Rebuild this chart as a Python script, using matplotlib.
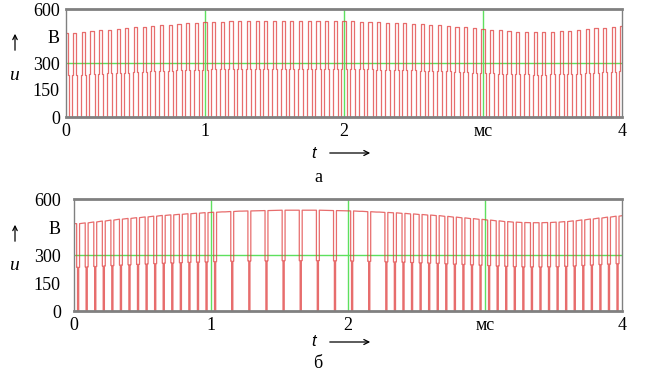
import numpy as np
import matplotlib
matplotlib.use("Agg")
import matplotlib.pyplot as plt

# ---------------- data ----------------
period_ms = 0.0625          # PWM period (16 pulses per ms)
# panel a: top level of each pulse (V), pulse k centred at k*period
env_a = [465, 467, 471, 476, 481, 486, 490, 494, 498, 502, 506, 510, 513, 517, 520, 523,
         526, 528, 530, 532, 533, 534, 535, 536, 536, 536, 536, 536, 536, 535, 535, 534,
         533, 532, 530, 529, 527, 525, 523, 521, 518, 516, 513, 509, 506, 502, 498, 494,
         490, 486, 482, 478, 475, 473, 472, 472, 474, 476, 479, 483, 487, 492, 497, 502,
         508]
# panel b: top level around each period (V)
env_b = [468, 472, 477, 482, 487, 492, 496, 500, 504, 508, 512, 515, 518, 521, 524, 527,
         529, 531, 533, 535, 536, 537, 538, 539, 540, 540, 540, 540, 540, 539, 538, 537,
         536, 534, 532, 530, 528, 526, 523, 520, 517, 514, 511, 507, 503, 499, 495, 491,
         487, 483, 479, 476, 474, 473, 473, 474, 476, 479, 483, 488, 493, 498, 503, 508,
         513]
# panel b: notch present (1) or dropped (0) at each period
notch_b = [1] * 17 + [0, 1] * 9 + [0] + [1] * 28
y_ticks = [0, 150, 300, 450, 600]
y_labels = ["0", "150", "300", "В", "600"]
x_ticks = [0, 1, 2, 3, 4]
x_labels = ["0", "1", "2", "мс", "4"]

RED = "#e03c3c"
GREEN = "#5ee05e"
GRAY = "#808080"
SERIF = "Liberation Serif"

W, H = 645, 382
fig = plt.figure(figsize=(6.45, 3.82), dpi=100)

def ax_rect(l, r, t, b):
    return [l / W, 1 - b / H, (r - l) / W, (b - t) / H]

ax_a = fig.add_axes(ax_rect(66, 622, 9, 117))
ax_b = fig.add_axes(ax_rect(74, 622, 199, 311))

# ---- waveform a: narrow pulses with mid-level steps ----
ta, va = [], []
for k, h in enumerate(env_a):
    c = k * period_ms
    m = h / 2
    w1, w2 = 0.30 * period_ms, 0.18 * period_ms
    ta += [c - w1, c - w1, c - w2, c - w2, c + w2, c + w2, c + w1, c + w1]
    va += [0, m, m, h, h, m, m, 0]

# ---- waveform b: high level with notches ----
tb, vb = [], []
for k, h in enumerate(env_b):
    c = (k + 0.48) * period_ms
    m = h / 2
    w1, w2 = 0.17 * period_ms, 0.07 * period_ms
    if k < len(notch_b) and notch_b[k]:
        tb += [c - w1, c - w1, c - w2, c - w2, c + w2, c + w2, c + w1, c + w1]
        vb += [h, m, m, 0, 0, m, m, h]
    else:
        tb += [c - w1, c + w1]
        vb += [h, h]
tb = [0] + tb
vb = [env_b[0]] + vb

for ax, t, v, pad in ((ax_a, ta, va, 4.5), (ax_b, tb, vb, 9.5)):
    ax.set_xlim(0, 4)
    ax.set_ylim(0, 600)
    for xv in (1, 2, 3):
        ax.axvline(xv, color=GREEN, lw=1.0, zorder=1)
    ax.axhline(300, color=GREEN, lw=1.0, zorder=1)
    ax.plot(t, v, color=RED, lw=0.9, alpha=0.75, zorder=2)
    ax.set_yticks(y_ticks)
    ax.set_yticklabels(y_labels)
    ax.set_xticks(x_ticks)
    ax.set_xticklabels(x_labels)
    ax.tick_params(length=0, labelsize=13, pad=pad)
    ax.tick_params(axis="x", pad=4)
    for lab in ax.get_xticklabels() + ax.get_yticklabels():
        lab.set_fontfamily(SERIF)
    for s in ax.spines.values():
        s.set_color(GRAY)
        s.set_linewidth(1.0)
    ax.spines["top"].set_linewidth(2.0)
    ax.spines["bottom"].set_linewidth(2.0)

def fx(x):
    return x / W

def fy(y):
    return 1 - y / H

# y-axis labels with arrows
for (ay0, ay1, uy) in ((53, 31, 75), (244, 222, 265)):
    fig.add_artist(matplotlib.patches.FancyArrowPatch(
        (fx(15), fy(ay0)), (fx(15), fy(ay1)), transform=fig.transFigure,
        arrowstyle="->", mutation_scale=8, lw=0.9, color="black"))
    fig.text(fx(14), fy(uy), "u", fontfamily=SERIF, style="italic",
             fontsize=14, ha="center", va="center")

# x-axis labels with arrows and panel letters
for (ty, letter, ly) in ((153, "а", 178), (342, "б", 363)):
    fig.text(fx(314), fy(ty), "t", fontfamily="Liberation Sans", style="italic",
             fontsize=12, ha="center", va="center")
    fig.add_artist(matplotlib.patches.FancyArrowPatch(
        (fx(327), fy(ty)), (fx(373), fy(ty)), transform=fig.transFigure,
        arrowstyle="->", mutation_scale=9, lw=0.9, color="black"))
    fig.text(fx(318), fy(ly), letter, fontfamily=SERIF, fontsize=13,
             ha="center", va="center")

fig.savefig("out.png", dpi=100)
